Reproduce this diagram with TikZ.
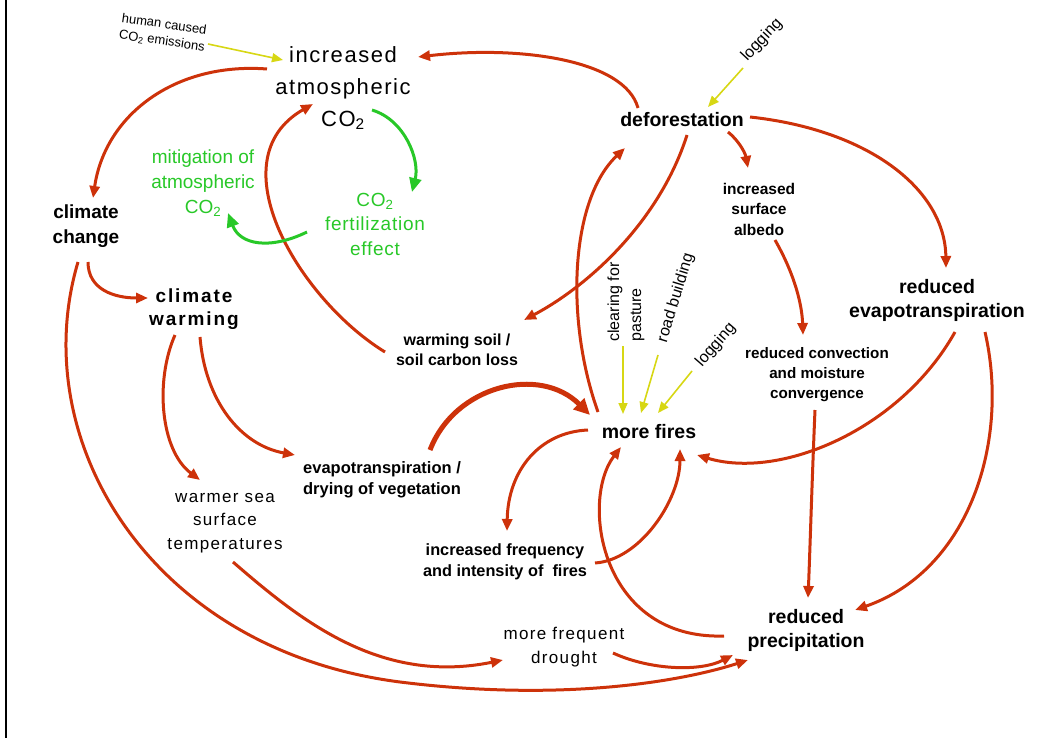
\documentclass[tikz,border=0pt]{standalone}
\usepackage{fontspec}
\setmainfont{Liberation Sans}
\newfontfamily\spacedA[LetterSpace=7]{Liberation Sans}
\newfontfamily\spacedB[LetterSpace=10]{Liberation Sans}
\newfontfamily\spacedC[LetterSpace=8]{Liberation Sans}
\usetikzlibrary{arrows.meta}
\definecolor{fire}{RGB}{205,50,10}
\definecolor{leaf}{RGB}{40,200,40}
\definecolor{cause}{RGB}{215,215,20}
\begin{document}
\begin{tikzpicture}[x=1pt,y=-1pt,
  lbl/.style={align=center,inner sep=0pt},
  bigbold/.style={lbl,font=\fontsize{19.5}{24}\selectfont\bfseries},
  midbold/.style={lbl,font=\fontsize{16}{20.5}\selectfont\bfseries},
  plain/.style={lbl,font=\fontsize{17}{23.5}\selectfont\spacedC},
  greenlbl/.style={lbl,text=leaf,font=\fontsize{19}{25}\selectfont},
  driverlbl/.style={lbl,font=\fontsize{16}{22}\selectfont},
  flow/.style={color=fire,line width=3pt,-{Triangle[length=12pt,width=10pt]}},
  thickflow/.style={color=fire,line width=5pt,-{Triangle[length=16pt,width=15pt]}},
  sink/.style={color=leaf,line width=3pt,-{Triangle[length=14pt,width=12pt]}},
  driver/.style={color=cause,line width=1.6pt,-{Triangle[length=11pt,width=9pt]}}]

\useasboundingbox (0,0) rectangle (1049,738);
\draw[line width=2.5pt] (6,0) -- (6,738);

% ---- nodes ----
\node[lbl,font=\fontsize{13}{17}\selectfont,rotate=-8] (human) at (163,33)
  {human caused\\CO\textsubscript{2} emissions};
\node[lbl,font=\fontsize{22}{32}\selectfont\spacedA] (co2) at (343,88)
  {increased\\atmospheric\\CO\textsubscript{2}};
\node[bigbold] (defor) at (682,120) {deforestation};
\node[driverlbl,rotate=47] (logA) at (762,40) {logging};
\node[lbl,font=\fontsize{19}{25}\selectfont\bfseries] (cc) at (86,226) {climate\\change};
\node[greenlbl] (mit) at (203,183) {mitigation of\\atmospheric\\CO\textsubscript{2}};
\node[greenlbl,font=\fontsize{19}{24.5}\selectfont\addfontfeatures{LetterSpace=4}] (fert) at (375,224)
  {CO\textsubscript{2}\\fertilization\\effect};
\node[lbl,font=\fontsize{19}{23}\selectfont\spacedB\bfseries] (warm) at (194,309) {climate\\warming};
\node[lbl,font=\fontsize{15.5}{20.5}\selectfont\bfseries] (albedo) at (759,209)
  {increased\\surface\\albedo};
\node[bigbold] (redET) at (937,300) {reduced\\evapotranspiration};
\node[midbold] (soil) at (457,350) {warming soil /\\soil carbon loss};
\node[driverlbl,align=left,rotate=90] (clear) at (626,302) {clearing for\\pasture};
\node[driverlbl,rotate=73] (road) at (676,298) {road building};
\node[driverlbl,rotate=49] (logB) at (716,345) {logging};
\node[lbl,font=\fontsize{15.2}{20}\selectfont\bfseries] (conv) at (817,375)
  {reduced convection\\and moisture\\convergence};
\node[bigbold] (fires) at (649,432) {more fires};
\node[midbold,font=\fontsize{16.5}{21}\selectfont\bfseries] (evap) at (382,480)
  {evapotranspiration /\\drying of vegetation};
\node[plain] (sst) at (225,523) {warmer sea\\surface\\temperatures};
\node[midbold,font=\fontsize{16.3}{21}\selectfont\bfseries] (freq) at (505,562)
  {increased frequency\\and intensity of\ \ fires};
\node[bigbold] (precip) at (806,630) {reduced\\precipitation};
\node[plain] (drought) at (564,647) {more frequent\\drought};

% ---- causal links ----
\draw[flow] ([shift={(-44,-12)}]defor.center) .. controls (625,60) and (520,45) .. ([shift={(75,-31)}]co2.center);
\draw[flow] ([shift={(-76,-19)}]co2.center) .. controls (175,62) and (105,115) .. ([shift={(7,-28)}]cc.center);
\draw[flow] ([shift={(-72,2)}]soil.center) .. controls (300,300) and (215,160) .. ([shift={(-30,16)}]co2.center);
\draw[flow] ([shift={(5,15)}]defor.center) .. controls (660,220) and (590,285) .. ([shift={(67,-30)}]soil.center);
\draw[flow] ([shift={(-51,-20)}]fires.center) .. controls (565,320) and (570,200) .. ([shift={(-57,28)}]defor.center);
\draw[flow] ([shift={(46,12)}]defor.center) .. controls (738,140) and (745,152) .. ([shift={(-11,-41)}]albedo.center);
\draw[flow] ([shift={(68,-3)}]defor.center) .. controls (870,130) and (945,190) .. ([shift={(9,-32)}]redET.center);
\draw[flow] ([shift={(16,31)}]albedo.center) .. controls (795,275) and (802,305) .. ([shift={(-14,-40)}]conv.center);
\draw[flow] ([shift={(18,32)}]redET.center) .. controls (900,430) and (780,480) .. ([shift={(48,23)}]fires.center);
\draw[flow] ([shift={(48,32)}]redET.center) .. controls (1010,440) and (970,570) .. ([shift={(49,-20)}]precip.center);
\draw[flow] ([shift={(-2,35)}]conv.center) .. controls (812,480) and (810,550) .. ([shift={(2,-32)}]precip.center);
\draw[flow] ([shift={(-82,6)}]precip.center) .. controls (600,640) and (580,500) .. ([shift={(-28,15)}]fires.center);
\draw[flow] ([shift={(-61,-2)}]fires.center) .. controls (540,432) and (508,470) .. ([shift={(2,-31)}]freq.center);
\draw[flow] ([shift={(90,1)}]freq.center) .. controls (640,560) and (680,500) .. ([shift={(31,17)}]fires.center);
\draw[thickflow] ([shift={(48,-30)}]evap.center) .. controls (455,385) and (540,365) .. ([shift={(-59,-17)}]fires.center);
\draw[flow] ([shift={(2,36)}]cc.center) .. controls (88,290) and (115,298) .. ([shift={(-46,-11)}]warm.center);
\draw[flow] ([shift={(-19,26)}]warm.center) .. controls (155,380) and (160,450) .. ([shift={(-25,-43)}]sst.center);
\draw[flow] ([shift={(6,28)}]warm.center) .. controls (205,400) and (240,445) .. ([shift={(-87,-25)}]evap.center);
\draw[flow] ([shift={(-8,36)}]cc.center) .. controls (25,440) and (150,650) .. (400,682)
  .. controls (560,702) and (680,682) .. ([shift={(-58,30)}]precip.center);
\draw[flow] ([shift={(8,39)}]sst.center) .. controls (300,620) and (380,685) .. ([shift={(-61,13)}]drought.center);
\draw[flow] ([shift={(49,6)}]drought.center) .. controls (650,670) and (700,672) .. ([shift={(-73,25)}]precip.center);

% ---- carbon uptake by vegetation ----
\draw[sink] ([shift={(29,22)}]co2.center) .. controls (405,120) and (420,160) .. ([shift={(37,-32)}]fert.center);
\draw[sink] ([shift={(-68,8)}]fert.center) .. controls (270,250) and (240,245) .. ([shift={(25,30)}]mit.center);

% ---- human drivers ----
\draw[driver] ([shift={(45,11)}]human.center) -- ([shift={(-60,-28)}]co2.center);
\draw[driver] ([shift={(-19,28)}]logA.center) -- ([shift={(26,-13)}]defor.center);
\draw[driver] ([shift={(-3,44)}]clear.center) -- ([shift={(-26,-18)}]fires.center);
\draw[driver] ([shift={(-18,57)}]road.center) -- ([shift={(-8,-19)}]fires.center);
\draw[driver] ([shift={(-24,26)}]logB.center) -- ([shift={(9,-19)}]fires.center);
\end{tikzpicture}
\end{document}
